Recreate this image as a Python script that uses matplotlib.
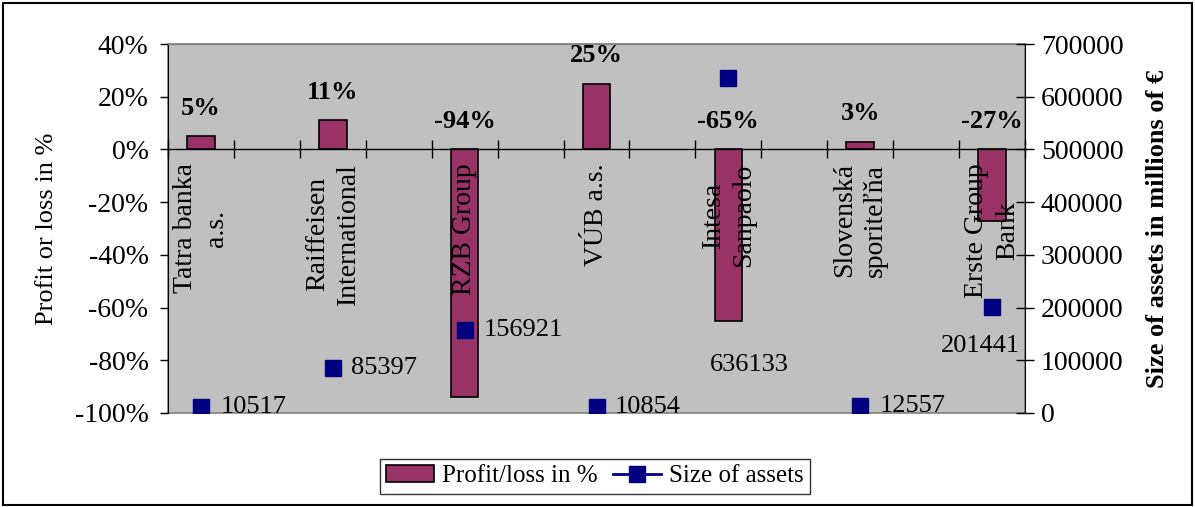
import numpy as np
import matplotlib
matplotlib.use("Agg")
import matplotlib.pyplot as plt
from matplotlib.patches import Rectangle
from matplotlib.lines import Line2D
from matplotlib.ticker import FuncFormatter, MultipleLocator

# ---- data ----
banks = ["Tatra banka\na.s.", "Raiffeisen\nInternational", "RZB Group", "VÚB a.s.",
         "Intesa\nSanpaolo", "Slovenská\nsporiteľňa", "Erste Group\nBank"]
profit_pct = [5, 11, -94, 25, -65, 3, -27]
assets = [10517, 85397, 156921, 10854, 636133, 12557, 201441]

# label placement for asset values (points, relative to each marker)
asset_label_offsets = [(14, 0), (13, 0), (14, 0), (13, 0), (15, -207), (14, 0), (-8, -28)]
asset_label_ha = ["left", "left", "left", "left", "center", "left", "center"]

BAR_COLOR = "#993366"
MARKER_COLOR = "#000080"
PLOT_BG = "#C0C0C0"
FS = 19
TICK_FS = 20

plt.rcParams["font.family"] = ["Liberation Serif", "DejaVu Serif"]

fig = plt.figure(figsize=(11.95, 5.07), dpi=100)
ax = fig.add_axes([168 / 1195, 1 - 413 / 507, (1025 - 168) / 1195, (413 - 44) / 507])
ax.set_facecolor(PLOT_BG)

# each bank occupies every other slot on a 13-slot category axis
pos = np.arange(len(banks)) * 2
n_slots = 2 * len(banks) - 1

ax.bar(pos, profit_pct, width=0.42, color=BAR_COLOR, edgecolor="black", linewidth=1.2, zorder=2)
ax.set_xlim(-0.5, n_slots - 0.5)
ax.set_ylim(-100, 40)
ax.yaxis.set_major_locator(MultipleLocator(20))
ax.yaxis.set_major_formatter(FuncFormatter(lambda v, p: f"{int(round(v))}%"))
ax.tick_params(axis="y", direction="out", length=6, width=1, pad=8, labelsize=TICK_FS)

# category axis crosses at 0%
ax.spines["bottom"].set_position(("data", 0))
ax.spines["bottom"].set_color("black")
ax.spines["bottom"].set_linewidth(1)
ax.set_xticks(np.arange(-0.5, n_slots + 0.5, 1.0))
ax.tick_params(axis="x", direction="inout", length=13, width=1, labelbottom=False)
ax.spines["top"].set_color("#808080")
ax.spines["right"].set_visible(False)
ax.spines["left"].set_color("black")
ax.add_patch(Rectangle((0, 0), 1, 1, transform=ax.transAxes, fill=False,
                       edgecolor="#808080", linewidth=1.2, zorder=1, clip_on=False))

# value labels for bars
for x, v in zip(pos, profit_pct):
    ax.annotate(f"{v}%", (x, max(v, 0)), xytext=(0, 20), textcoords="offset points",
                ha="center", va="center", fontsize=FS, fontweight="bold", zorder=5)

# category names, rotated, hanging below the zero line
for x, name in zip(pos, banks):
    ax.annotate(name, (x, 0), xytext=(0, -10), textcoords="offset points",
                rotation=90, ha="center", va="top", multialignment="center",
                fontsize=TICK_FS, linespacing=1.3, zorder=6)

ax.set_ylabel("Profit or loss in %", fontsize=FS, labelpad=12)

# secondary axis for asset size
ax2 = ax.twinx()
ax2.set_ylim(0, 700000)
ax2.yaxis.set_major_locator(MultipleLocator(100000))
ax2.yaxis.set_major_formatter(FuncFormatter(lambda v, p: f"{int(v)}"))
ax2.tick_params(axis="y", direction="inout", length=13, width=1, pad=5, labelsize=TICK_FS)
for s in ["top", "bottom", "left"]:
    ax2.spines[s].set_visible(False)
ax2.spines["right"].set_color("black")
ax2.plot(pos, assets, linestyle="none", marker="s", markersize=12,
         color=MARKER_COLOR, zorder=4)
for x, v, off, ha in zip(pos, assets, asset_label_offsets, asset_label_ha):
    ax2.annotate(f"{v}", (x, v), xytext=off, textcoords="offset points",
                 ha=ha, va="center", fontsize=FS, zorder=6)
ax2.set_ylabel("Size of assets in millions of €", fontsize=FS, fontweight="bold", labelpad=16)

# legend
handles = [Rectangle((0, 0), 1, 1, facecolor=BAR_COLOR, edgecolor="black", linewidth=1.2),
           Line2D([0], [0], color=MARKER_COLOR, linewidth=2, marker="s", markersize=12)]
leg = fig.legend(handles, ["Profit/loss in %", "Size of assets"], loc="center",
                 bbox_to_anchor=(595 / 1195, 1 - 476 / 507), ncol=2, fontsize=FS - 1,
                 frameon=True, fancybox=False, handlelength=1.9, handletextpad=0.35,
                 columnspacing=0.6, borderpad=0.25, borderaxespad=0)
leg.get_frame().set_edgecolor("black")
leg.get_frame().set_linewidth(1)

# outer chart border
fig.add_artist(Rectangle((3 / 1195, 2 / 507), 1189 / 1195, 502 / 507, transform=fig.transFigure,
                         fill=False, edgecolor="black", linewidth=1.5))

fig.savefig("out.png", dpi=100)
